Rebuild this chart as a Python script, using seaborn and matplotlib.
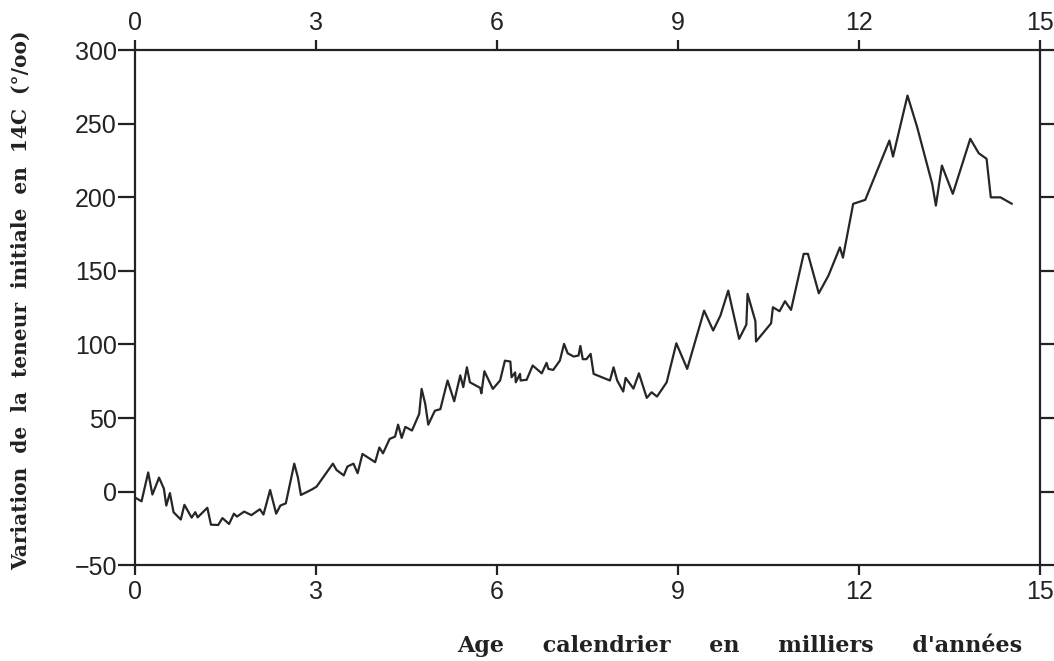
import matplotlib
matplotlib.use("Agg")
import matplotlib.pyplot as plt
import seaborn as sns
import pandas as pd

# Calendar age (thousands of years) and initial 14C variation (per mille)
age_kyr = [0.00, 0.11, 0.22, 0.29, 0.40, 0.48, 0.52, 0.58, 0.64, 0.76, 0.82, 0.94, 1.00, 1.04,
           1.20, 1.26, 1.38, 1.45, 1.56, 1.64, 1.69, 1.81, 1.93, 2.07, 2.13, 2.24, 2.34, 2.41,
           2.50, 2.64, 2.70, 2.75, 2.93, 3.01, 3.28, 3.34, 3.46, 3.52, 3.62, 3.69, 3.77, 3.98,
           4.05, 4.11, 4.22, 4.31, 4.36, 4.42, 4.48, 4.59, 4.71, 4.75, 4.81, 4.86, 4.97, 5.06,
           5.18, 5.29, 5.39, 5.44, 5.50, 5.55, 5.72, 5.74, 5.79, 5.93, 6.05, 6.13, 6.22, 6.24,
           6.30, 6.31, 6.38, 6.39, 6.49, 6.59, 6.74, 6.82, 6.85, 6.93, 7.04, 7.11, 7.17, 7.27,
           7.35, 7.38, 7.42, 7.48, 7.55, 7.60, 7.87, 7.93, 7.99, 8.09, 8.13, 8.26, 8.35, 8.48,
           8.56, 8.65, 8.81, 8.97, 9.15, 9.43, 9.58, 9.70, 9.83, 10.01, 10.13, 10.15, 10.23,
           10.28, 10.29, 10.54, 10.57, 10.68, 10.77, 10.87, 11.08, 11.15, 11.33, 11.49, 11.68,
           11.73, 11.90, 12.10, 12.50, 12.56, 12.80, 12.96, 13.21, 13.27, 13.37, 13.55, 13.84,
           13.98, 14.11, 14.18, 14.34, 14.53]
delta_14c = [-4, -6.6, 13, -2, 9.5, 2, -9.5, -1, -14, -19, -9, -17.7, -14, -17.5,
             -11, -22.5, -22.7, -18, -22, -15, -17, -13.6, -16, -12, -15.6, 1.1, -15, -9.5,
             -8, 19, 9.7, -2.3, 1.4, 3.4, 19, 14.7, 11, 17, 19, 12.5, 25.6, 20,
             30, 26, 35.8, 37.4, 45.5, 36.5, 44, 41.5, 52.8, 69.8, 59.6, 45.5, 55, 56,
             75.5, 61.4, 79, 71, 84.5, 74.3, 70.5, 66.8, 81.8, 69.8, 75.5, 89, 88.4, 77.7,
             81, 74.3, 80, 75.5, 76, 85.7, 80.4, 87.5, 83.4, 82.7, 89, 100.4, 94, 91.8,
             92.5, 99, 90, 90, 93.6, 80, 75.5, 84.5, 75.5, 68, 77.3, 70, 80.4, 63.7,
             67.5, 64.6, 74.3, 100.8, 83.4, 123, 109.5, 119.6, 136.6, 103.8, 113.5, 134.4, 123,
             115.8, 102, 114.4, 125.3, 122.6, 129.4, 123.5, 161.6, 161.6, 134.8, 146.8, 166,
             159, 195.6, 198.3, 238.6, 227.7, 269.2, 247.7, 209, 194.4, 221.6, 202.4, 239.8,
             230, 226.2, 200, 200, 195.6]

x_ticks = [0, 3, 6, 9, 12, 15]
y_ticks = [-50, 0, 50, 100, 150, 200, 250, 300]
x_label = "Age     calendrier     en     milliers     d'années"
y_label = "Variation  de  la  teneur  initiale  en  14C  (°/oo)"

df = pd.DataFrame({"age": age_kyr, "d14c": delta_14c})

sns.set_style("ticks")
plt.rcParams["font.family"] = ["Liberation Sans", "DejaVu Sans"]

fig = plt.figure(figsize=(10.54, 6.61), dpi=100)
ax = fig.add_axes([0.128, 0.145, 0.859, 0.779])

sns.lineplot(data=df, x="age", y="d14c", ax=ax, sort=False, estimator=None,
             color="#262626", linewidth=1.6)

ax.set_xlim(0, 15)
ax.set_ylim(-50, 300)
ax.set_xticks(x_ticks)
ax.set_yticks(y_ticks)
ax.set_yticklabels([str(v).replace("-", "\u2212") for v in y_ticks])

for s in ax.spines.values():
    s.set_visible(True)
    s.set_color("#222222")
    s.set_linewidth(1.6)

ax.tick_params(axis="x", which="both", direction="out", length=7, width=1.6,
               top=True, labeltop=True, bottom=True, labelbottom=True,
               labelsize=18, pad=4, colors="#222222")
ax.tick_params(axis="y", which="both", direction="out", length=12, width=1.6,
               left=True, right=True, labelright=False, labelsize=18, pad=1,
               colors="#222222")

ax.set_xlabel(x_label, fontdict=dict(family="DejaVu Serif", weight="bold", size=16,
                                     color="#222222"))
ax.set_ylabel(y_label, fontdict=dict(family="DejaVu Serif", weight="bold", size=14.5,
                                     color="#222222"))
ax.xaxis.set_label_coords(0.668, -0.132)
ax.yaxis.set_label_coords(-0.115, 0.515)

fig.savefig("out.png", dpi=100, facecolor="white")
